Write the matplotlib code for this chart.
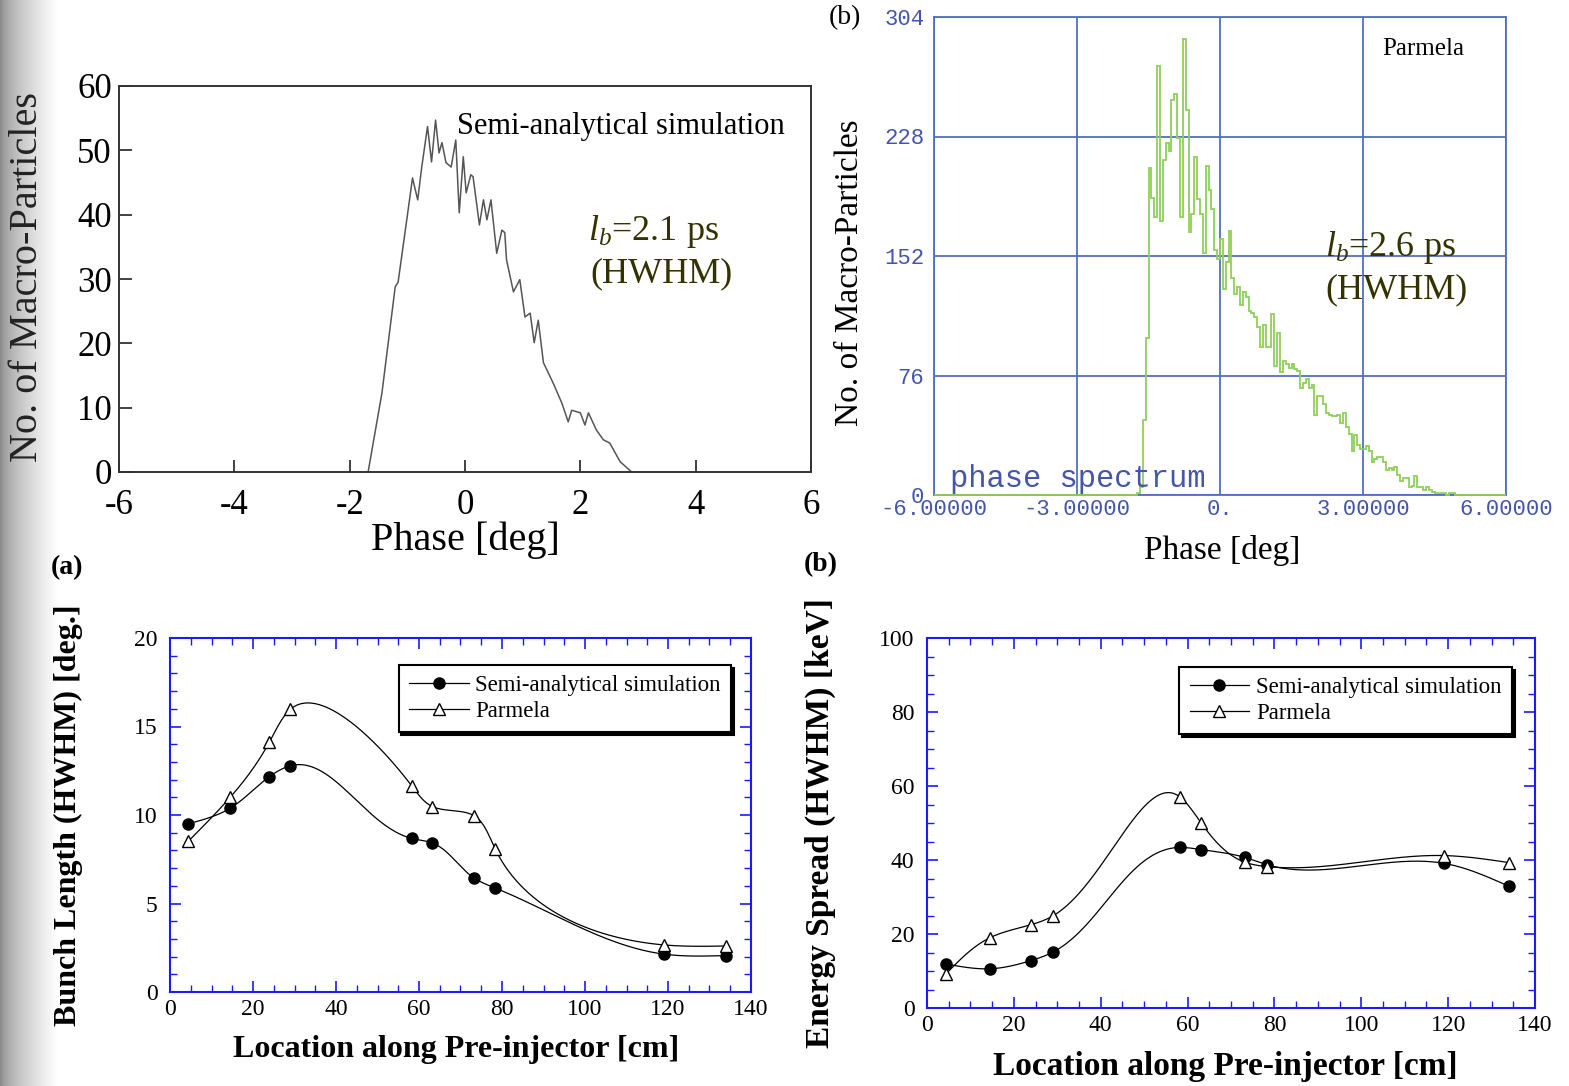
import numpy as np
import matplotlib
matplotlib.use("Agg")
import matplotlib.pyplot as plt
from matplotlib.ticker import MultipleLocator

plt.rcParams["font.family"] = "Liberation Serif"
plt.rcParams["mathtext.fontset"] = "custom"
plt.rcParams["mathtext.rm"] = "Liberation Serif"
plt.rcParams["mathtext.it"] = "Liberation Serif:italic"
plt.rcParams["axes.unicode_minus"] = False

# (a) top: semi-analytical phase distribution
semi_phase = [-1.68, -1.44, -1.21, -1.16, -1.01, -0.91, -0.82, -0.75, -0.65, -0.58, -0.51,
              -0.45, -0.40, -0.33, -0.24, -0.16, -0.10, -0.03, 0.02, 0.10, 0.14, 0.25, 0.32,
              0.38, 0.45, 0.55, 0.64, 0.69, 0.72, 0.84, 0.95, 1.04, 1.13, 1.20, 1.27, 1.36,
              1.53, 1.68, 1.79, 1.85, 2.00, 2.08, 2.14, 2.28, 2.40, 2.51, 2.69, 2.89]
semi_count = [0, 12.3, 28.8, 29.5, 39.2, 45.7, 42.3, 47.4, 53.7, 48.2, 54.7,
              49.6, 51.2, 48.1, 47.4, 51.6, 40.3, 49.0, 43.4, 46.2, 45.9, 38.4, 42.3,
              39.2, 42.3, 34.0, 37.6, 37.2, 33.0, 28.0, 29.9, 24.1, 24.7, 20.1, 23.6, 17.0,
              13.8, 10.7, 7.8, 9.6, 9.2, 7.3, 9.2, 6.5, 5.0, 4.5, 1.6, 0]

# (b) top: Parmela phase histogram, bins of 0.06 deg starting at -1.74 deg
hist_start = -1.74
hist_width = 0.06
hist_counts = [1, 5, 48, 100, 208, 189, 177, 273, 174, 213, 224, 219, 251, 255, 227, 177,
               290, 245, 167, 179, 215, 188, 179, 154, 209, 194, 182, 156, 150,
               163, 131, 148, 168, 138, 128, 132, 121, 129, 126, 117, 116, 113, 107, 94,
               108, 94, 94, 115, 82, 103, 78, 85, 83, 81, 83, 80, 79, 68, 71, 74, 68, 70,
               51, 63, 63, 58, 52, 51, 50, 50, 51, 46, 52, 43, 39, 28, 38, 32, 29, 29, 31,
               28, 21, 23, 24, 24, 21, 16, 17, 16, 18, 13, 9, 11, 11, 5, 6, 12, 5, 5, 3,
               5, 3, 2, 1, 1, 1, 1, 0, 1, 1]

# bottom panels: location along pre-injector [cm]
location = [4.4, 14.5, 23.9, 29.0, 58.2, 63.2, 73.2, 78.4, 119.0, 134.0]
bunch_semi = [9.50, 10.38, 12.16, 12.78, 8.68, 8.42, 6.45, 5.87, 2.14, 2.06]
bunch_parm = [8.51, 11.0, 14.1, 15.97, 11.66, 10.48, 9.97, 8.06, 2.66, 2.60]
energy_semi = [11.9, 10.6, 12.8, 15.1, 43.4, 42.8, 40.7, 38.7, 39.1, 32.9]
energy_parm = [9.25, 19.0, 22.5, 24.9, 57.1, 49.9, 39.4, 38.2, 41.2, 39.3]


def natural_spline(x, y, n=600):
    x = np.asarray(x, float)
    y = np.asarray(y, float)
    h = np.diff(x)
    m = len(x)
    A = np.zeros((m, m))
    r = np.zeros(m)
    A[0, 0] = A[-1, -1] = 1
    for i in range(1, m - 1):
        A[i, i - 1] = h[i - 1]
        A[i, i] = 2 * (h[i - 1] + h[i])
        A[i, i + 1] = h[i]
        r[i] = 6 * ((y[i + 1] - y[i]) / h[i] - (y[i] - y[i - 1]) / h[i - 1])
    M = np.linalg.solve(A, r)
    xs = np.linspace(x[0], x[-1], n)
    k = np.clip(np.searchsorted(x, xs) - 1, 0, m - 2)
    hh = x[k + 1] - x[k]
    a = (x[k + 1] - xs) / hh
    b = (xs - x[k]) / hh
    ys = a * y[k] + b * y[k + 1] + ((a ** 3 - a) * M[k] + (b ** 3 - b) * M[k + 1]) * hh ** 2 / 6
    return xs, ys


def smooth_curve(x, y, sx, sy):
    # parametric spline, chord length measured in screen pixels
    px = np.asarray(x) * sx
    py = np.asarray(y) * sy
    t = np.concatenate([[0], np.cumsum(np.hypot(np.diff(px), np.diff(py)))])
    _, xs = natural_spline(t, x)
    _, ys = natural_spline(t, y)
    return xs, ys


W, H = 1569, 1086
fig = plt.figure(figsize=(W / 100, H / 100), dpi=100)


def box(x0, y0, x1, y1):
    return [x0 / W, 1 - y1 / H, (x1 - x0) / W, (y1 - y0) / H]


def ftext(x, y, s, **kw):
    kw.setdefault("ha", "center")
    kw.setdefault("va", "center")
    fig.text(x / W, 1 - y / H, s, **kw)


# grey shading on the left edge
gax = fig.add_axes(box(0, 0, 58, H), zorder=-5)
grad = np.linspace(0, 1, 200) ** 0.6
gax.imshow((0.52 + 0.48 * grad)[None, :], cmap="gray", vmin=0, vmax=1, aspect="auto",
           extent=[0, 1, 0, 1])
gax.axis("off")

# ---- top left ----
ax1 = fig.add_axes(box(119, 86, 811, 472))
ax1.plot(semi_phase, semi_count, color="#555555", lw=1.1)
ax1.set_xlim(-6, 6)
ax1.set_ylim(0, 60)
ax1.set_xticks(range(-6, 7, 2))
ax1.set_yticks(range(0, 61, 10))
for s in ax1.spines.values():
    s.set_color("#333333")
    s.set_linewidth(1.4)
ax1.tick_params(direction="in", length=9, width=1.3, color="#333333", labelsize=25,
                top=False, right=False)
ax1.tick_params(axis="x", pad=12)
ax1.tick_params(axis="y", pad=5)
ax1.text(-0.14, 53.7, "Semi-analytical simulation", fontsize=22, ha="left", va="center")
ftext(588, 232, "$l_b$=2.1 ps", fontsize=26, color="#333300", ha="left")
ftext(590, 274, "(HWHM)", fontsize=26, color="#333300", ha="left")
ftext(28, 277, "No. of Macro-Particles", fontsize=29, rotation=90, color="#222222")
ftext(465, 540, "Phase [deg]", fontsize=29)

# ---- top right ----
blue = "#4f6fbf"
tick_blue = "#4455aa"
ax2 = fig.add_axes(box(934, 17, 1506, 495))
edges = hist_start + hist_width * np.arange(len(hist_counts) + 1)
full_edges = np.concatenate([[-6.0], edges, [6.0]])
full_counts = np.concatenate([[0], hist_counts, [0]])
ax2.stairs(full_counts, full_edges, color="#8fd05a", lw=1.3, zorder=3, clip_on=False)
ax2.set_xlim(-6, 6)
ax2.set_ylim(0, 304)
ax2.set_xticks([-6, -3, 0, 3, 6])
ax2.set_xticklabels(["-6.00000", "-3.00000", "0.", "3.00000", "6.00000"])
ax2.set_yticks([0, 76, 152, 228, 304])
ax2.grid(True, color=blue, lw=1.3)
for s in ax2.spines.values():
    s.set_color(blue)
    s.set_linewidth(1.3)
ax2.tick_params(length=0, labelsize=16, labelcolor=tick_blue)
ax2.tick_params(axis="x", pad=3)
ax2.tick_params(axis="y", pad=7)
for lab in ax2.get_xticklabels() + ax2.get_yticklabels():
    lab.set_fontfamily("Liberation Mono")
ax2.text(-5.67, 10, "phase spectrum", fontsize=22, color=tick_blue,
         family="Liberation Mono", ha="left", va="center")
ftext(845, 18, "(b)", fontsize=20)
ftext(1423, 49, "Parmela", fontsize=18)
ftext(1325, 247, "$l_b$=2.6 ps", fontsize=26, color="#333300", ha="left")
ftext(1325, 290, "(HWHM)", fontsize=26, color="#333300", ha="left")
ftext(850, 273, "No. of Macro-Particles", fontsize=24, rotation=90)
ftext(1222, 551, "Phase [deg]", fontsize=24)

# ---- bottom panels ----
axis_blue = "#1a1aff"


def bottom_panel(ax, ysemi, yparm, ymax, ymajor, yminor, legend_anchor, sx, sy):
    xs, ys = smooth_curve(location, ysemi, sx, sy)
    ax.plot(xs, ys, color="black", lw=0.9)
    xs, ys = smooth_curve(location, yparm, sx, sy)
    ax.plot(xs, ys, color="black", lw=0.9)
    ax.plot(location, ysemi, "o", color="black", ms=8)
    ax.plot(location, yparm, "^", mfc="white", mec="black", mew=1.0, ms=8)
    ax.set_xlim(0, 140)
    ax.set_ylim(0, ymax)
    ax.xaxis.set_major_locator(MultipleLocator(20))
    ax.xaxis.set_minor_locator(MultipleLocator(5))
    ax.yaxis.set_major_locator(MultipleLocator(ymajor))
    ax.yaxis.set_minor_locator(MultipleLocator(yminor))
    for s in ax.spines.values():
        s.set_color(axis_blue)
        s.set_linewidth(1.5)
    ax.tick_params(which="both", direction="in", top=True, right=True, color=axis_blue,
                   labelsize=17)
    ax.tick_params(which="major", length=8, width=1.2)
    ax.tick_params(which="minor", length=5, width=1.0)
    ax.tick_params(axis="x", pad=5)
    ax.tick_params(axis="y", pad=9)
    # legend handles: line with marker in the middle
    h1, = ax.plot([], [], "-o", color="black", lw=0.9, ms=8)
    h2, = ax.plot([], [], "-^", color="black", lw=0.9, ms=8, mfc="white", mew=1.0)
    leg = ax.legend([h1, h2], ["Semi-analytical simulation", "Parmela"],
                    loc="upper right", bbox_to_anchor=legend_anchor, borderaxespad=0,
                    fontsize=16.5, fancybox=False, framealpha=1, edgecolor="black",
                    shadow={"color": "black", "alpha": 1}, handlelength=2.6,
                    labelspacing=0.2, borderpad=0.45, handletextpad=0.3, numpoints=1)
    leg.get_frame().set_linewidth(1.5)


ax3 = fig.add_axes(box(170, 638, 751, 992))
bottom_panel(ax3, bunch_semi, bunch_parm, 20, 5, 1, (0.966, 0.924), 581 / 140, 354 / 20)
ftext(68, 815, "Bunch Length (HWHM) [deg.]", fontsize=23, fontweight="bold", rotation=90)
ftext(456, 1049, "Location along Pre-injector [cm]", fontsize=23, fontweight="bold")
ftext(67, 568, "(a)", fontsize=20, fontweight="bold")

ax4 = fig.add_axes(box(927, 638, 1535, 1008))
bottom_panel(ax4, energy_semi, energy_parm, 100, 20, 5, (0.962, 0.922), 608 / 140, 370 / 100)
ftext(820, 823, "Energy Spread (HWHM) [keV]", fontsize=24, fontweight="bold", rotation=90)
ftext(1225, 1067, "Location along Pre-injector [cm]", fontsize=24, fontweight="bold")
ftext(821, 565, "(b)", fontsize=20, fontweight="bold")

fig.savefig("out.png", dpi=100)
